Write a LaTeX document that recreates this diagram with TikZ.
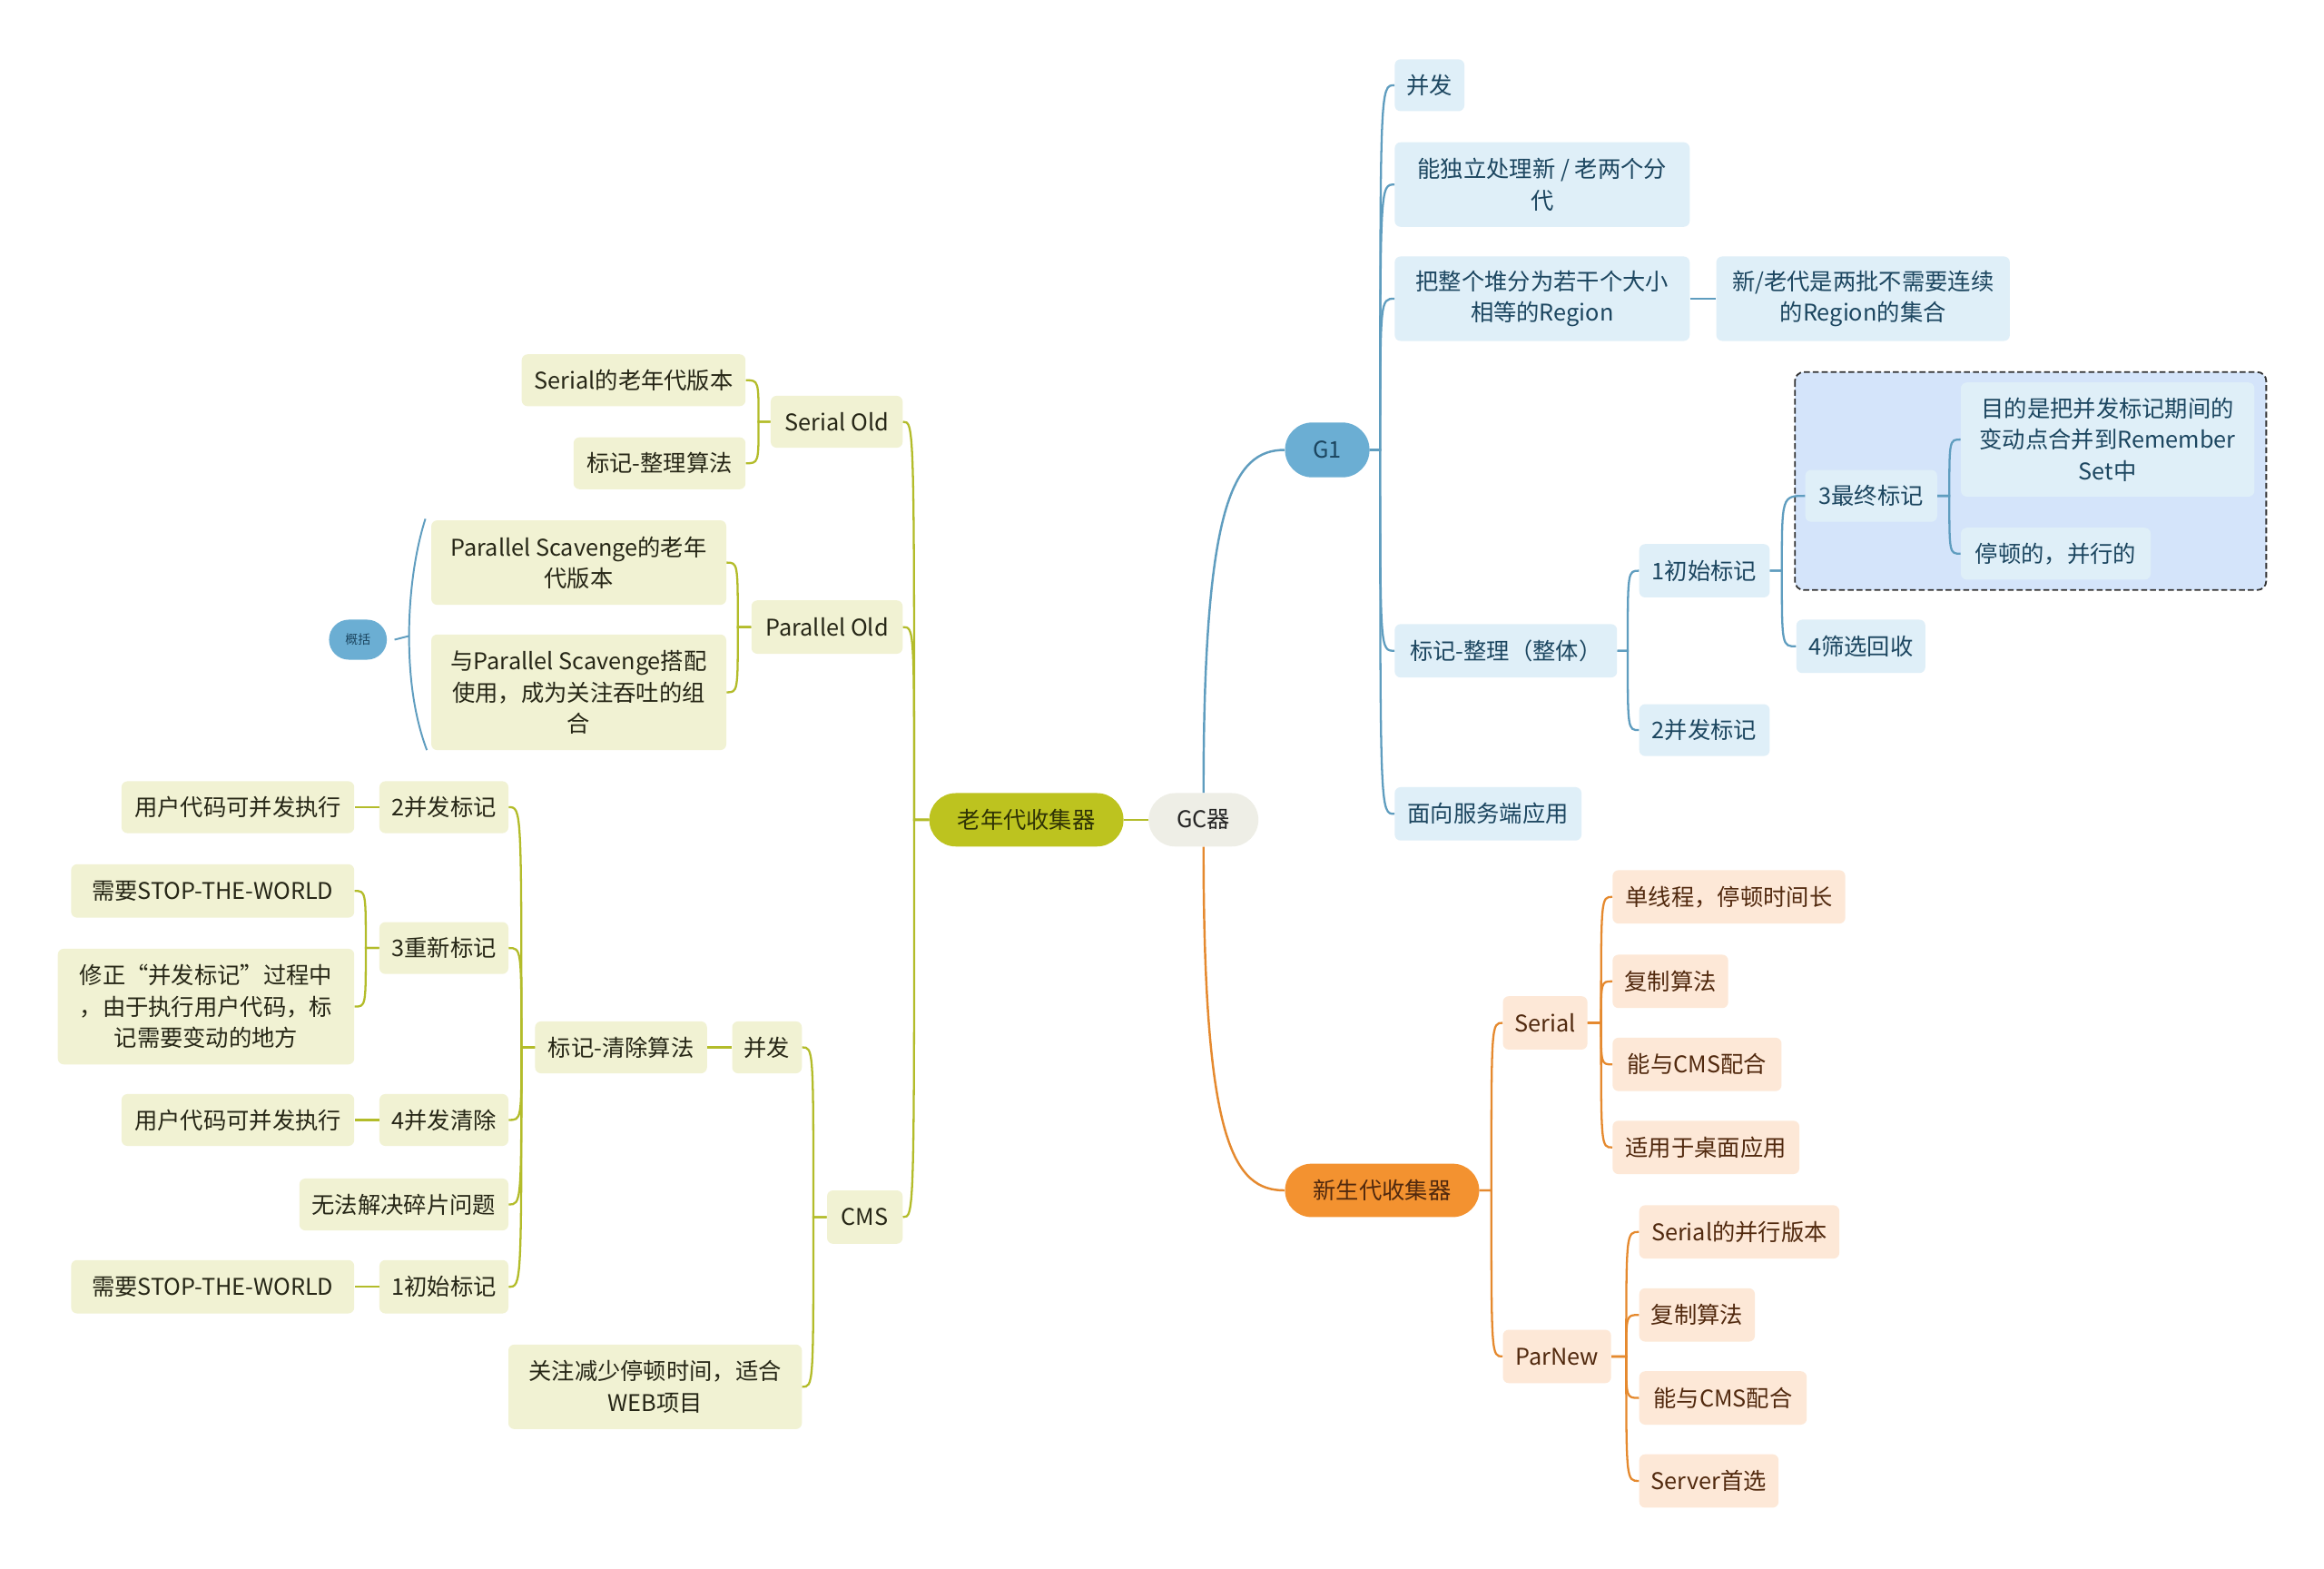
\documentclass[tikz,border=0pt]{standalone}
\usepackage{fontspec}
\setmainfont{Noto Sans CJK SC}
\usetikzlibrary{calc}
\definecolor{cOldMain}{HTML}{BDC31F}
\definecolor{cOldFill}{HTML}{F1F2D3}
\definecolor{cOldLine}{HTML}{B3BC2A}
\definecolor{cOldText}{HTML}{262616}
\definecolor{cOldMainText}{HTML}{2F3305}
\definecolor{cGC}{HTML}{EEEEE6}
\definecolor{cG1Main}{HTML}{6BAED3}
\definecolor{cG1Fill}{HTML}{DFEFF8}
\definecolor{cG1Line}{HTML}{5F9DBF}
\definecolor{cG1Text}{HTML}{1C4660}
\definecolor{cNewMain}{HTML}{F39230}
\definecolor{cNewFill}{HTML}{FDE8D7}
\definecolor{cNewLine}{HTML}{E5892E}
\definecolor{cNewText}{HTML}{51290E}
\definecolor{cBound}{HTML}{D4E4FA}
\newcommand{\fsz}{\fontsize{15.5pt}{21pt}\selectfont}
\newcommand{\fss}{\fontsize{8.5pt}{10pt}\selectfont}
\begin{document}
\begin{tikzpicture}[x=1pt,y=-1pt,
  box/.style={rectangle, rounded corners=4pt, inner sep=0pt, align=center, font=\fsz},
  oldbox/.style={box, fill=cOldFill, text=cOldText},
  g1box/.style={box, fill=g1fillc, text=cG1Text},
  g1fillc/.style={},
  nbox/.style={box, fill=cNewFill, text=cNewText},
  pill/.style={rectangle, rounded corners=17.9pt, inner sep=0pt, align=center, font=\fsz, minimum height=36pt},
  oldln/.style={draw=cOldLine, line width=1.4pt},
  g1ln/.style={draw=cG1Line, line width=1.4pt},
  newln/.style={draw=cNewLine, line width=1.4pt},
  elbow/.style={to path={let \p1=(\tikztostart), \p2=(\tikztotarget) in -- ({\x1+(#1)},\y1) .. controls ({\x1+(#1)},\y2) .. (\p2)}}
]
\useasboundingbox (0,0) rectangle (1568,1058);
\fill[white] (0,0) rectangle (1568,1058);

% boundary
\draw[fill=cBound, draw=black!80, line width=1.1pt, dash pattern=on 4pt off 2pt, rounded corners=6pt] (1211,251) rectangle (1529,398);

% central
\node[pill, fill=cGC, text=black!85, minimum width=74pt] (gc) at (812,553) {GC器};
\node[pill, fill=cOldMain, text=cOldMainText, minimum width=131pt] (old) at (692.5,553) {老年代收集器};
\node[pill, fill=cG1Main, text=cG1Text, minimum width=57pt, minimum height=37pt, rounded corners=18.4pt] (g1) at (895.5,303.5) {G1};
\node[pill, fill=cNewMain, text=cNewText, minimum width=131pt] (new) at (932.5,803) {新生代收集器};

% G1 branch
\node[box, fill=cG1Fill, text=cG1Text, minimum width=47pt, minimum height=35pt] (g1a) at (964.5,57.5) {并发};
\node[box, fill=cG1Fill, text=cG1Text, minimum width=199pt, minimum height=57pt] (g1b) at (1040.5,124.5) {能独立处理新 / 老两个分\\代};
\node[box, fill=cG1Fill, text=cG1Text, minimum width=199pt, minimum height=57pt] (g1c) at (1040.5,201.5) {把整个堆分为若干个大小\\相等的Region};
\node[box, fill=cG1Fill, text=cG1Text, minimum width=198pt, minimum height=57pt] (g1c1) at (1257,201.5) {新/老代是两批不需要连续\\的Region的集合};
\node[box, fill=cG1Fill, text=cG1Text, minimum width=150pt, minimum height=36pt] (g1d) at (1016,439) {标记-整理（整体）};
\node[box, fill=cG1Fill, text=cG1Text, minimum width=126pt, minimum height=36pt] (g1e) at (1004,549) {面向服务端应用};
\node[box, fill=cG1Fill, text=cG1Text, minimum width=88pt, minimum height=36pt] (m1) at (1150,385) {1初始标记};
\node[box, fill=cG1Fill, text=cG1Text, minimum width=88pt, minimum height=35pt] (m2) at (1150,492.5) {2并发标记};
\node[box, fill=cG1Fill, text=cG1Text, minimum width=89pt, minimum height=35pt] (m3) at (1262.5,334.5) {3最终标记};
\node[box, fill=cG1Fill, text=cG1Text, minimum width=87pt, minimum height=36pt] (m4) at (1255.5,436) {4筛选回收};
\node[box, fill=cG1Fill, text=cG1Text, minimum width=198pt, minimum height=77pt] (m31) at (1422,296.5) {目的是把并发标记期间的\\变动点合并到Remember\\Set中};
\node[box, fill=cG1Fill, text=cG1Text, minimum width=128pt, minimum height=35pt] (m32) at (1387,373.5) {停顿的，并行的};

% New branch
\node[nbox, minimum width=57pt, minimum height=36pt] (ser) at (1042.5,690) {Serial};
\node[nbox, minimum width=73pt, minimum height=36pt] (parn) at (1050.5,915) {ParNew};
\node[nbox, minimum width=157pt, minimum height=36pt] (s1) at (1166.5,605) {单线程，停顿时间长};
\node[nbox, minimum width=78pt, minimum height=36pt] (s2) at (1127,662) {复制算法};
\node[nbox, minimum width=114pt, minimum height=36pt] (s3) at (1145,718) {能与CMS配合};
\node[nbox, minimum width=126pt, minimum height=36pt] (s4) at (1151,774) {适用于桌面应用};
\node[nbox, minimum width=135pt, minimum height=36pt] (p1) at (1173.5,831) {Serial的并行版本};
\node[nbox, minimum width=78pt, minimum height=36pt] (p2) at (1145,887) {复制算法};
\node[nbox, minimum width=113pt, minimum height=36pt] (p3) at (1162.5,943) {能与CMS配合};
\node[nbox, minimum width=94pt, minimum height=36pt] (p4) at (1153,999) {Server首选};

% Old branch
\node[oldbox, minimum width=89pt, minimum height=35pt] (so) at (564.5,284.5) {Serial Old};
\node[oldbox, minimum width=102pt, minimum height=36pt] (po) at (558,423) {Parallel Old};
\node[oldbox, minimum width=51pt, minimum height=36pt] (cms) at (583.5,821) {CMS};
\node[oldbox, minimum width=151pt, minimum height=35pt] (so1) at (427.5,256.5) {Serial的老年代版本};
\node[oldbox, minimum width=116pt, minimum height=35pt] (so2) at (445,312.5) {标记-整理算法};
\node[oldbox, minimum width=199pt, minimum height=57pt] (po1) at (390.5,379.5) {Parallel Scavenge的老年\\代版本};
\node[oldbox, minimum width=199pt, minimum height=78pt] (po2) at (390.5,467) {与Parallel Scavenge搭配\\使用，成为关注吞吐的组\\合};
\node[pill, fill=cG1Main, text=cG1Text, font=\fss, minimum width=39pt, minimum height=27pt, rounded corners=13.4pt] (sum) at (241.5,431.5) {概括};
\node[oldbox, minimum width=47pt, minimum height=35pt] (c1) at (517.5,706.5) {并发};
\node[oldbox, minimum width=198pt, minimum height=57pt] (c2) at (442,935.5) {关注减少停顿时间，适合\\WEB项目};
\node[oldbox, minimum width=116pt, minimum height=35pt] (alg) at (419,706.5) {标记-清除算法};
\node[oldbox, minimum width=87pt, minimum height=35pt] (a2) at (299.5,544.5) {2并发标记};
\node[oldbox, minimum width=87pt, minimum height=35pt] (a3) at (299.5,639.5) {3重新标记};
\node[oldbox, minimum width=87pt, minimum height=35pt] (a4) at (299.5,755.5) {4并发清除};
\node[oldbox, minimum width=141pt, minimum height=35pt] (a5) at (272.5,812.5) {无法解决碎片问题};
\node[oldbox, minimum width=87pt, minimum height=36pt] (a1) at (299.5,868) {1初始标记};
\node[oldbox, minimum width=157pt, minimum height=35pt] (a2x) at (160.5,544.5) {用户代码可并发执行};
\node[oldbox, minimum width=191pt, minimum height=36pt] (a3x) at (143.5,601) {需要STOP-THE-WORLD};
\node[oldbox, minimum width=200pt, minimum height=78pt] (a3y) at (139,679) {修正“并发标记”过程中\\，由于执行用户代码，标\\记需要变动的地方};
\node[oldbox, minimum width=157pt, minimum height=35pt] (a4x) at (160.5,755.5) {用户代码可并发执行};
\node[oldbox, minimum width=191pt, minimum height=36pt] (a1x) at (143.5,868) {需要STOP-THE-WORLD};

% connectors: central
\draw[oldln, line width=1.6pt] (gc.west) -- (old.east);
\draw[g1ln, line width=1.5pt] (gc.north) .. controls (812,340) and (832,303.5) .. (g1.west);
\draw[newln, line width=1.5pt] (gc.south) .. controls (812,770) and (832,803) .. (new.west);

% G1
\foreach \c in {g1a,g1b,g1c,g1d,g1e} \draw[g1ln] (g1.east) to[elbow=7pt] (\c.west);
\draw[g1ln] (g1c.east) -- (g1c1.west);
\foreach \c in {m1,m2} \draw[g1ln] (g1d.east) to[elbow=7pt] (\c.west);
\foreach \c in {m3,m4} \draw[g1ln] (m1.east) to[elbow=8pt] (\c.west);
\foreach \c in {m31,m32} \draw[g1ln] (m3.east) to[elbow=8pt] (\c.west);

% New
\foreach \c in {ser,parn} \draw[newln] (new.east) to[elbow=8pt] (\c.west);
\foreach \c in {s1,s2,s3,s4} \draw[newln] (ser.east) to[elbow=9pt] (\c.west);
\foreach \c in {p1,p2,p3,p4} \draw[newln] (parn.east) to[elbow=10pt] (\c.west);

% Old
\foreach \c in {so,po,cms} \draw[oldln] (old.west) to[elbow=-10pt] (\c.east);
\foreach \c in {so1,so2} \draw[oldln] (so.west) to[elbow=-8pt] (\c.east);
\foreach \c in {po1,po2} \draw[oldln] (po.west) to[elbow=-9pt] (\c.east);
\foreach \c in {c1,c2} \draw[oldln] (cms.west) to[elbow=-9pt] (\c.east);
\draw[oldln] (c1.west) -- (alg.east);
\foreach \c in {a1,a2,a3,a4,a5} \draw[oldln] (alg.west) to[elbow=-9pt] (\c.east);
\draw[oldln] (a2.west) -- (a2x.east);
\draw[oldln] (a4.west) -- (a4x.east);
\draw[oldln] (a1.west) -- (a1x.east);
\foreach \c in {a3x,a3y} \draw[oldln] (a3.west) to[elbow=-9pt] (\c.east);

% summary bracket
\coordinate (bt) at (287,350);
\coordinate (bm) at (276,429);
\coordinate (bb) at (288,506);
\draw[draw=cG1Line, line width=1.2pt] (bt) .. controls (279,375) and (276,405) .. (bm) .. controls (276,455) and (279,482) .. (bb);
\draw[draw=cG1Line, line width=1.2pt] ([xshift=5pt]sum.east) -- (bm);
\end{tikzpicture}
\end{document}
